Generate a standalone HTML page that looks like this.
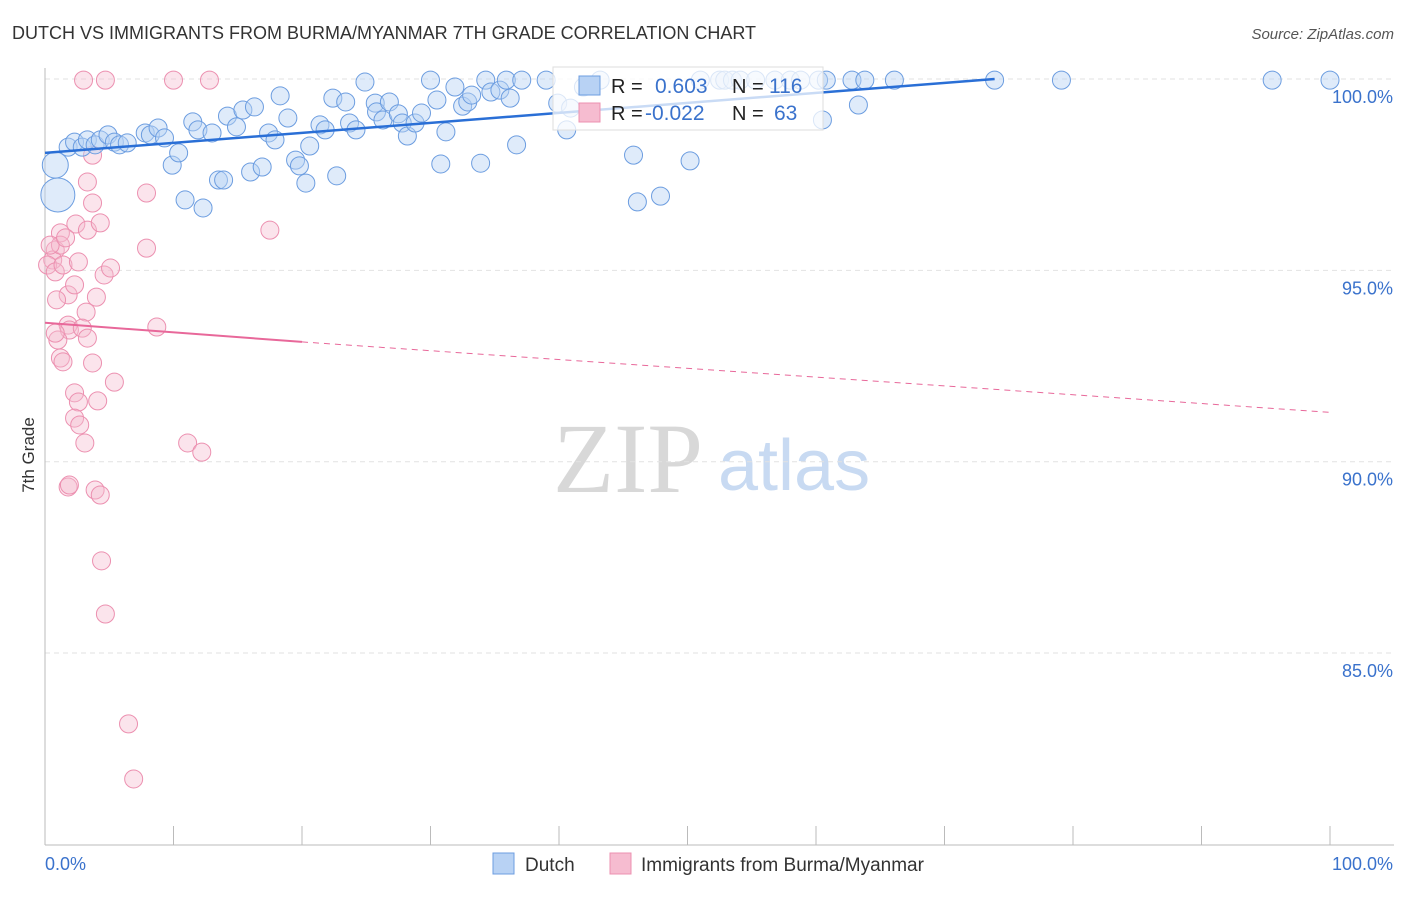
<!DOCTYPE html>
<html><head><meta charset="utf-8"><style>
body{margin:0;background:#fff;font-family:"Liberation Sans",sans-serif}
svg text{font-family:"Liberation Sans",sans-serif}
</style></head><body>
<svg id="chart" width="1406" height="892" xmlns="http://www.w3.org/2000/svg">
<text x="12" y="39" font-size="18" fill="#333">DUTCH VS IMMIGRANTS FROM BURMA/MYANMAR 7TH GRADE CORRELATION CHART</text>
<text x="1394" y="39" font-size="15" fill="#555" font-style="italic" text-anchor="end">Source: ZipAtlas.com</text>
<text transform="translate(34,455) rotate(-90)" font-size="17" fill="#333" text-anchor="middle">7th Grade</text>
<g>
<text x="553" y="492" font-size="100" fill="#d8d8d8" font-family="Liberation Serif" style="font-family:'Liberation Serif',serif">ZIP</text>
<text x="718" y="490" font-size="72" fill="#c8daf2">atlas</text>
</g>
<g id="grid"></g><g id="axes"></g><g id="pink"></g><g id="blue"></g><g id="trends"></g>
<g>
<rect x="553" y="67" width="270" height="63" fill="#fff" fill-opacity="0.75" stroke="#ddd"/>
<rect x="579" y="76" width="21" height="19" fill="#b8d2f4" stroke="#6c9de0"/>
<rect x="579" y="103" width="21" height="19" fill="#f6bcd0" stroke="#ec90b0"/>
<text x="611" y="93" font-size="20" fill="#222">R = </text><text x="655" y="93" font-size="21" fill="#3a72cc">0.603</text>
<text x="732" y="93" font-size="20" fill="#222">N = </text><text x="769" y="93" font-size="21" fill="#3a72cc">116</text>
<text x="611" y="120" font-size="20" fill="#222">R = </text><text x="645" y="120" font-size="21" fill="#3a72cc">-0.022</text>
<text x="732" y="120" font-size="20" fill="#222">N = </text><text x="774" y="120" font-size="21" fill="#3a72cc">63</text>
</g>
<g>
<rect x="493" y="853" width="21" height="21" fill="#b8d2f4" stroke="#6c9de0"/>
<text x="525" y="871" font-size="19" fill="#333">Dutch</text>
<rect x="610" y="853" width="21" height="21" fill="#f6bcd0" stroke="#ec90b0"/>
<text x="641" y="871" font-size="19" fill="#333">Immigrants from Burma/Myanmar</text>
</g>
</svg>
<script>
const yTicks=[100,95,90,85];
const yTickLabels=["100.0%","95.0%","90.0%","85.0%"];
const xTicks=[0,10,20,30,40,50,60,70,80,90,100];
const blueX=[1.0,0.8,1.8,2.3,2.9,3.3,3.9,4.3,4.9,5.4,5.8,6.4,7.8,8.2,8.8,9.3,9.9,10.4,10.9,11.5,11.9,12.3,13.0,13.5,13.9,14.2,14.9,15.4,16.0,16.3,16.9,17.4,17.9,18.3,18.9,19.5,19.8,20.3,20.6,21.4,21.8,22.7,22.4,23.4,23.7,24.2,24.9,25.7,25.8,26.3,26.8,27.5,27.8,28.2,28.8,29.3,30.0,30.5,30.8,31.2,31.9,32.5,32.9,33.2,33.9,34.3,34.7,35.4,35.9,36.2,36.7,37.1,39.0,39.9,40.6,40.9,41.9,43.2,45.8,46.1,47.9,50.2,51.0,52.5,52.9,53.5,54.1,55.3,56.8,58.0,58.8,60.2,60.5,60.8,62.8,63.3,63.8,66.1,73.9,79.1,95.5,100.0];
const blueY=[96.97,97.75,98.22,98.35,98.22,98.41,98.28,98.41,98.54,98.35,98.28,98.33,98.59,98.54,98.72,98.46,97.75,98.07,96.84,98.88,98.67,96.63,98.59,97.36,97.36,99.03,98.75,99.19,97.57,99.27,97.70,98.59,98.41,99.56,98.98,97.88,97.73,97.28,98.25,98.80,98.67,97.47,99.50,99.40,98.85,98.67,99.92,99.37,99.14,98.93,99.40,99.09,98.85,98.51,98.85,99.11,99.97,99.45,97.78,98.62,99.79,99.29,99.40,99.58,97.80,99.97,99.66,99.71,99.97,99.50,98.28,99.97,99.97,99.37,98.67,99.24,99.79,99.97,98.01,96.79,96.94,97.86,99.97,99.97,99.97,99.97,99.97,99.97,99.97,99.97,99.97,99.97,98.93,99.97,99.97,99.32,99.97,99.97,99.97,99.97,99.97,99.97];
const blueR=[17,13];
const pinkX=[3.0,4.7,10.0,12.8,3.7,3.3,7.9,3.7,2.4,1.2,3.3,4.3,0.8,0.6,0.2,0.8,1.4,2.6,1.8,0.9,2.3,4.6,5.1,4.0,3.2,7.9,17.5,8.7,1.8,1.9,2.9,1.0,1.2,3.3,3.7,0.8,4.1,5.4,2.3,2.6,2.3,2.7,3.1,1.4,11.1,12.2,1.8,1.9,3.9,4.3,4.4,4.7,6.5,6.9,1.2,0.4,1.6];
const pinkY=[99.97,99.97,99.97,99.97,98.01,97.31,97.02,96.76,96.21,95.98,96.05,96.24,95.53,95.27,95.14,94.96,95.14,95.22,94.36,94.23,94.62,94.88,95.06,94.30,93.91,95.58,96.05,93.52,93.57,93.44,93.49,93.18,92.71,93.23,92.58,93.36,91.59,92.08,91.80,91.56,91.14,90.96,90.49,92.61,90.49,90.25,89.34,89.39,89.26,89.13,87.41,86.02,83.15,81.71,95.66,95.66,95.85];
const blueTrend=[[0,98.07],[73.9,100]];
const pinkTrendSolid=[[0,93.63],[20,93.13]];
const pinkTrendDash=[[20,93.13],[100,91.29]];
const NS="http://www.w3.org/2000/svg";
const sx=v=>45+v*12.85;
const sy=v=>79+(100-v)*38.27;
function mk(tag,attrs,parent){const e=document.createElementNS(NS,tag);for(const k in attrs)e.setAttribute(k,attrs[k]);document.getElementById(parent).appendChild(e);return e;}
yTicks.forEach((t,i)=>{
  const l=mk('line',{x1:45,x2:1394,y1:sy(t),y2:sy(t),stroke:'#e2e2e2','stroke-dasharray':'5,4'},'grid');
  
  
  const tx=mk('text',{x:1393,y:sy(t)+24,'font-size':18,fill:'#3a72cc','text-anchor':'end'},'grid');
  tx.textContent=yTickLabels[i];
  
  
});
const ya=mk('line',{x1:45,x2:45,y1:68,y2:845,stroke:'#bbb'},'axes');


const xa=mk('line',{x1:45,x2:1394,y1:845,y2:845,stroke:'#bbb'},'axes');


xTicks.forEach(t=>{
  const l=mk('line',{x1:sx(t),x2:sx(t),y1:826,y2:845,stroke:'#bbb'},'axes');
  
  
});
const xl0=mk('text',{x:45,y:870,'font-size':18,fill:'#3a72cc'},'axes');xl0.textContent='0.0%';


const xl1=mk('text',{x:1393,y:870,'font-size':18,fill:'#3a72cc','text-anchor':'end'},'axes');xl1.textContent='100.0%';


pinkX.forEach((x,i)=>{
  const c=mk('circle',{cx:sx(x),cy:sy(pinkY[i]),r:9,fill:'#f6bcd0','fill-opacity':0.4,stroke:'#ec90b0','stroke-width':1},'pink');
  
  
});
blueX.forEach((x,i)=>{
  const c=mk('circle',{cx:sx(x),cy:sy(blueY[i]),r:blueR[i]||9,fill:'#b8d2f4','fill-opacity':0.45,stroke:'#6c9de0','stroke-width':1},'blue');
  
  
});
const bt=mk('line',{x1:sx(blueTrend[0][0]),y1:sy(blueTrend[0][1]),x2:sx(blueTrend[1][0]),y2:sy(blueTrend[1][1]),stroke:'#2a6fd6','stroke-width':2.5},'trends');


const pt=mk('line',{x1:sx(pinkTrendSolid[0][0]),y1:sy(pinkTrendSolid[0][1]),x2:sx(pinkTrendSolid[1][0]),y2:sy(pinkTrendSolid[1][1]),stroke:'#e8689a','stroke-width':2},'trends');


const pd=mk('line',{x1:sx(pinkTrendDash[0][0]),y1:sy(pinkTrendDash[0][1]),x2:sx(pinkTrendDash[1][0]),y2:sy(pinkTrendDash[1][1]),stroke:'#e8689a','stroke-width':1,'stroke-dasharray':'6,5'},'trends');


</script>
</body></html>
